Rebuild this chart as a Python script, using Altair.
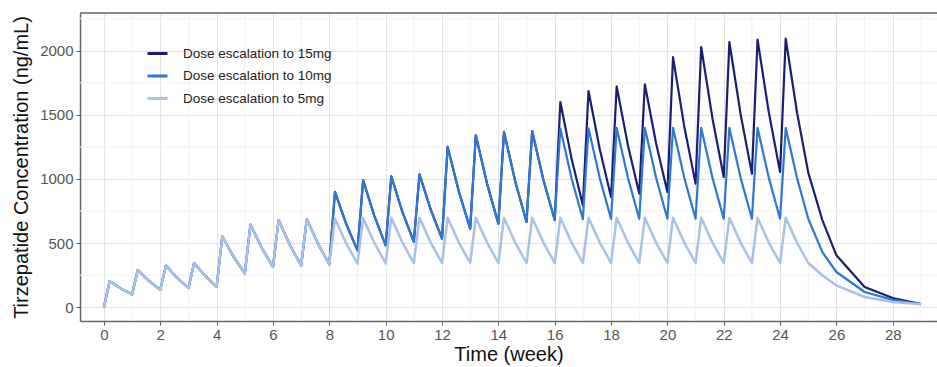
import altair as alt
import pandas as pd

# ---------------- data ----------------
series_names = ["Dose escalation to 15mg", "Dose escalation to 10mg", "Dose escalation to 5mg"]
series_colors = ["#1b1f72", "#2f78d2", "#a9c1e4"]

dose_weeks = list(range(25))          # weekly injections, week 0 .. 24
phase_offsets = [0.0, 0.2, 0.6]       # dose time (trough), peak, mid-decay
tail_weeks = [25, 25.5, 26, 27, 28, 29]

# 5 mg arm
trough_5 = [0, 101, 135, 150, 160, 265, 315, 325, 335, 340, 342, 344, 345,
            345, 345, 345, 345, 345, 345, 345, 345, 345, 345, 345, 345]
peak_5 = [203, 290, 325, 345, 553, 645, 680, 688, 692, 695, 697, 698, 698,
          698, 698, 698, 698, 698, 698, 698, 698, 698, 698, 698, 698]
mid_5 = [147, 205, 229, 243, 395, 464, 485, 494, 498, 501, 503, 504, 504,
         504, 504, 504, 504, 504, 504, 504, 504, 504, 504, 504, 504]
tail_5 = [345, 250, 170, 80, 41, 23]

# 10 mg arm
trough_10 = [0, 101, 135, 150, 160, 265, 315, 325, 335, 444, 483, 509, 535,
             613, 652, 665, 680, 686, 689, 690, 690, 690, 690, 690, 690]
peak_10 = [203, 290, 325, 345, 553, 645, 680, 688, 899, 990, 1021, 1037, 1250,
           1341, 1367, 1374, 1393, 1395, 1398, 1398, 1398, 1398, 1398, 1398, 1398]
mid_10 = [147, 205, 229, 243, 395, 464, 485, 494, 649, 711, 739, 761, 900,
          962, 981, 992, 1004, 1007, 1009, 1009, 1009, 1009, 1009, 1009, 1009]
tail_10 = [690, 430, 275, 119, 58, 25]

# 15 mg arm
trough_15 = [0, 101, 135, 150, 160, 265, 315, 325, 335, 444, 483, 509, 535,
             613, 652, 665, 680, 795, 860, 886, 899, 964, 1016, 1042, 1055]
peak_15 = [203, 290, 325, 345, 553, 645, 680, 688, 899, 990, 1021, 1037, 1250,
           1341, 1367, 1374, 1600, 1686, 1722, 1738, 1950, 2029, 2068, 2086, 2094]
mid_15 = [147, 205, 229, 243, 395, 464, 485, 494, 649, 711, 739, 761, 900,
          962, 981, 992, 1157, 1232, 1262, 1277, 1408, 1472, 1504, 1519, 1520]
tail_15 = [1050, 680, 405, 158, 72, 25]

x_major = [0, 2, 4, 6, 8, 10, 12, 14, 16, 18, 20, 22, 24, 26, 28]
x_minor = [1, 3, 5, 7, 9, 11, 13, 15, 17, 19, 21, 23, 25, 27, 29]
y_major = [0, 500, 1000, 1500, 2000]
y_minor = [250, 750, 1250, 1750, 2250]

# ---------------- table ----------------
arms = [
    (series_names[0], trough_15, peak_15, mid_15, tail_15),
    (series_names[1], trough_10, peak_10, mid_10, tail_10),
    (series_names[2], trough_5, peak_5, mid_5, tail_5),
]
rows = []
for name, tr, pk, md, tl in arms:
    for i, w in enumerate(dose_weeks):
        for off, val in zip(phase_offsets, (tr[i], pk[i], md[i])):
            rows.append({"series": name, "week": w + off, "conc": val})
    for t, v in zip(tail_weeks, tl):
        rows.append({"series": name, "week": t, "conc": v})
df = pd.DataFrame(rows)

W, H = 857, 308
FONT = "Liberation Sans"

xscale = alt.Scale(domain=[-0.85, 29.57], nice=False, zero=False)
yscale = alt.Scale(domain=[-107, 2294], nice=False, zero=False)

x_axis = alt.Axis(values=x_major, title="Time (week)", format="d",
                  grid=True, gridColor="#e4e4e4", gridWidth=1,
                  labelFontSize=15, labelColor="#555555", labelPadding=2,
                  tickSize=4, tickColor="#555555", domainColor="#666666",
                  domainWidth=1.5, titleFontSize=20, titleFontWeight="normal",
                  titleColor="#111111", titlePadding=2)
y_axis = alt.Axis(values=y_major, title="Tirzepatide Concentration (ng/mL)",
                  format="d", grid=True, gridColor="#e4e4e4", gridWidth=1,
                  labelFontSize=15, labelColor="#555555", labelPadding=3,
                  tickSize=4, tickColor="#555555", domainColor="#666666",
                  domainWidth=1.5, titleFontSize=20, titleFontWeight="normal",
                  titleColor="#111111", titlePadding=8)

vminor = alt.Chart(pd.DataFrame({"week": x_minor})).mark_rule(
    color="#f1f1f1", strokeWidth=1
).encode(x=alt.X("week:Q", scale=xscale, axis=x_axis))

hminor = alt.Chart(pd.DataFrame({"conc": y_minor})).mark_rule(
    color="#f1f1f1", strokeWidth=1
).encode(y=alt.Y("conc:Q", scale=yscale, axis=y_axis))

color_enc = alt.Color(
    "series:N",
    scale=alt.Scale(domain=series_names, range=series_colors),
    sort=series_names,
    legend=alt.Legend(
        title=None, orient="none", legendX=66, legendY=29,
        symbolType="stroke", symbolSize=400, symbolStrokeWidth=3,
        labelFontSize=13.5, labelColor="#222222", labelOffset=14,
        rowPadding=4.5, padding=0,
    ),
)


def arm_layer(name, width):
    return alt.Chart(df).transform_filter(
        alt.datum.series == name
    ).mark_line(strokeWidth=width, strokeJoin="round").encode(
        x=alt.X("week:Q", scale=xscale, axis=x_axis),
        y=alt.Y("conc:Q", scale=yscale, axis=y_axis),
        color=color_enc,
        order=alt.Order("week:Q"),
    )


top_border = alt.Chart(pd.DataFrame({"k": [0]})).mark_rule(
    color="#8a8a8a", strokeWidth=2
).encode(x=alt.value(0), x2=alt.value(W), y=alt.value(0))

chart = alt.layer(
    vminor, hminor,
    arm_layer(series_names[0], 2.2),
    arm_layer(series_names[1], 2.2),
    arm_layer(series_names[2], 2.5),
    top_border,
).properties(
    width=W, height=H,
    padding={"left": 80, "top": 13, "right": 0, "bottom": 46},
    autosize="none",
).configure(
    font=FONT, background="white"
).configure_view(stroke=None)

chart.save("out.html", embed_options={"renderer": "svg", "actions": False})
